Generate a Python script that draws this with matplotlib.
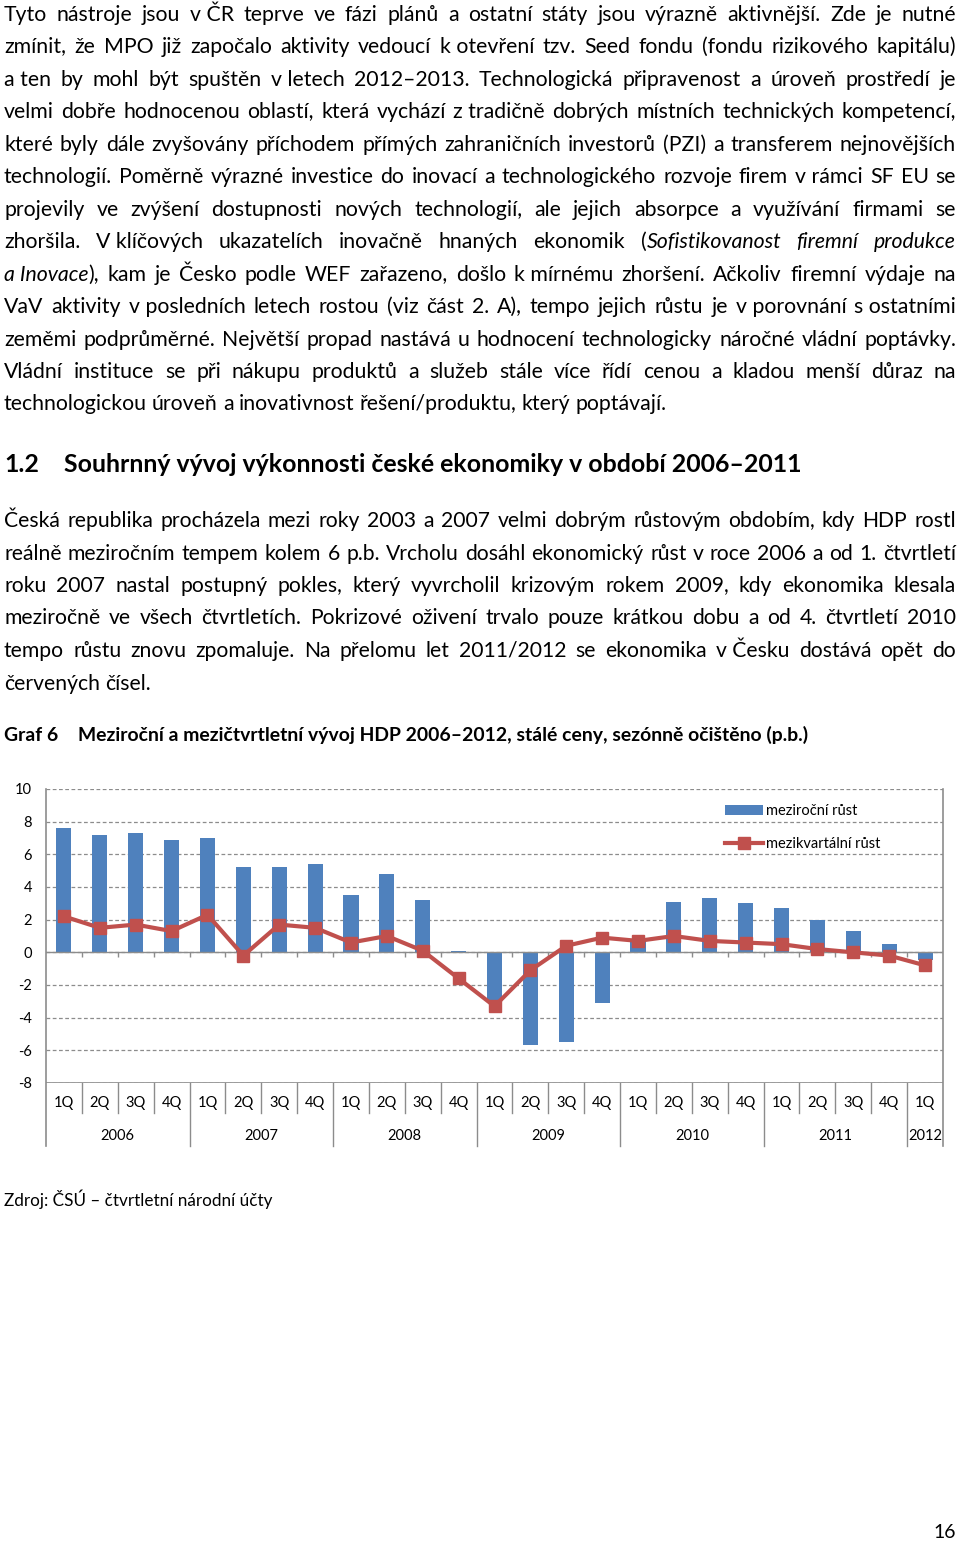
import matplotlib
matplotlib.use("Agg")
import matplotlib.pyplot as plt
from matplotlib.backends.backend_agg import get_hinting_flag
from matplotlib.lines import Line2D
from matplotlib.patches import Patch

FONT = ["Lato", "DejaVu Sans"]
plt.rcParams["font.family"] = FONT
plt.rcParams["axes.unicode_minus"] = False

BLUE = "#4F81BD"
RED = "#C0504D"
GRAY = "#8C8C8C"

# ~ marks a non-breaking space, * toggles italic
PARA1 = [
    "Tyto nástroje jsou v~ČR teprve ve fázi plánů a ostatní státy jsou výrazně aktivnější. Zde je nutné",
    "zmínit, že MPO již započalo aktivity vedoucí k~otevření tzv. Seed fondu (fondu rizikového kapitálu)",
    "a~ten by mohl být spuštěn v~letech 2012–2013. Technologická připravenost a úroveň prostředí je",
    "velmi dobře hodnocenou oblastí, která vychází z~tradičně dobrých místních technických kompetencí,",
    "které byly dále zvyšovány příchodem přímých zahraničních investorů (PZI) a transferem nejnovějších",
    "technologií. Poměrně výrazné investice do inovací a technologického rozvoje firem v~rámci SF EU se",
    "projevily ve zvýšení dostupnosti nových technologií, ale jejich absorpce a využívání firmami se",
    "zhoršila. V~klíčových ukazatelích inovačně hnaných ekonomik (*Sofistikovanost firemní produkce",
    "a~Inovace*), kam je Česko podle WEF zařazeno, došlo k~mírnému zhoršení. Ačkoliv firemní výdaje na",
    "VaV aktivity v~posledních letech rostou (viz část 2. A), tempo jejich růstu je v~porovnání s~ostatními",
    "zeměmi podprůměrné. Největší propad nastává u hodnocení technologicky náročné vládní poptávky.",
    "Vládní instituce se při nákupu produktů a služeb stále více řídí cenou a kladou menší důraz na",
    "technologickou úroveň a inovativnost řešení/produktu, který poptávají.",
]
HEADING_NUM = "1.2"
HEADING = "Souhrnný vývoj výkonnosti české ekonomiky v období 2006–2011"
PARA2 = [
    "Česká republika procházela mezi roky 2003 a 2007 velmi dobrým růstovým obdobím, kdy HDP rostl",
    "reálně meziročním tempem kolem 6 p.b. Vrcholu dosáhl ekonomický růst v roce 2006 a od 1. čtvrtletí",
    "roku 2007 nastal postupný pokles, který vyvrcholil krizovým rokem 2009, kdy ekonomika klesala",
    "meziročně ve všech čtvrtletích. Pokrizové oživení trvalo pouze krátkou dobu a od 4. čtvrtletí 2010",
    "tempo růstu znovu zpomaluje. Na přelomu let 2011/2012 se ekonomika v~Česku dostává opět do",
    "červených čísel.",
]
CAPTION_NUM = "Graf 6"
CAPTION = "Meziroční a mezičtvrtletní vývoj HDP 2006–2012, stálé ceny, sezónně očištěno (p.b.)"
SOURCE = "Zdroj: ČSÚ – čtvrtletní národní účty"
PAGE_NO = "16"

QUARTERS = ["1Q", "2Q", "3Q", "4Q"] * 6 + ["1Q"]
YEARS = ["2006", "2007", "2008", "2009", "2010", "2011", "2012"]
YOY = [7.6, 7.2, 7.3, 6.9, 7.0, 5.2, 5.2, 5.4, 3.5, 4.8, 3.2, 0.1,
       -3.1, -5.7, -5.5, -3.1, 0.8, 3.1, 3.3, 3.0, 2.7, 2.0, 1.3, 0.5, -0.5]
QOQ = [2.2, 1.5, 1.7, 1.3, 2.3, -0.2, 1.7, 1.5, 0.6, 1.0, 0.1, -1.6,
       -3.3, -1.1, 0.4, 0.9, 0.7, 1.0, 0.7, 0.6, 0.5, 0.2, 0.0, -0.2, -0.8]
LABELS = ["meziroční růst", "mezikvartální růst"]

W, H = 960, 1541
fig = plt.figure(figsize=(W / 100, H / 100), dpi=100)
page = fig.add_axes([0, 0, 1, 1])
page.set_xlim(0, W)
page.set_ylim(H, 0)
page.axis("off")
renderer = fig.canvas.get_renderer()


def text_width(s, size, **kw):
    t = page.text(0, 0, s, fontsize=size, **kw)
    w = t.get_window_extent(renderer).width
    t.remove()
    return w


def fit_size(s, width, **kw):
    return 10 * width / text_width(s, 10, **kw)


def snap_baseline(t, target):
    # Agg puts each word's bitmap on whole pixels depending on its own glyph box;
    # shift y so that every word lands on the same baseline row
    font = renderer._prepare_font(t.get_fontproperties())
    font.set_text(t.get_text(), 0, flags=get_hinting_flag())
    _, h = font.get_width_height()
    d = font.get_descent()
    t.set_y(round(target) + h // 64 - (h - d) // 64 - d / 64)


def split_words(line, italic):
    words = []
    for raw in line.split(" "):
        segs, buf = [], ""
        for ch in raw:
            if ch == "*":
                if buf:
                    segs.append((buf.replace("~", " "), italic))
                buf = ""
                italic = not italic
            else:
                buf += ch
        if buf:
            segs.append((buf.replace("~", " "), italic))
        words.append(segs)
    return words, italic


def draw_line(words, x0, x1, y, size, justify, weight="normal"):
    items = []
    for segs in words:
        row = []
        for txt, it in segs:
            t = page.text(0, y, txt, fontsize=size, fontweight=weight,
                          fontstyle="italic" if it else "normal",
                          va="baseline", ha="left", color="black")
            row.append((t, t.get_window_extent(renderer).width))
            snap_baseline(t, y)
        items.append(row)
    widths = [sum(w for _, w in row) for row in items]
    if justify and len(items) > 1:
        gap = (x1 - x0 - sum(widths)) / (len(items) - 1)
    else:
        gap = size * 100 / 72 * 0.24
    x = x0
    for row, w in zip(items, widths):
        xx = x
        for t, sw in row:
            t.set_x(xx)
            xx += sw
        x += w + gap


def draw_paragraph(lines, top, pitch, max_size, x0=4, x1=956):
    nat = max(text_width(l.replace("*", "").replace("~", " "), 10) for l in lines[:-1])
    size = min(max_size, 10 * (x1 - x0) * 0.985 / nat)
    italic = False
    for i, line in enumerate(lines):
        words, italic = split_words(line, italic)
        draw_line(words, x0, x1, top + i * pitch, size, i < len(lines) - 1)


draw_paragraph(PARA1, 21, 32.45, 15.6)
draw_paragraph(PARA2, 527, 32.5, 15.6)

hsize = fit_size(HEADING, 742, fontweight="bold")
page.text(4, 472, HEADING_NUM, fontsize=hsize, fontweight="bold", va="baseline")
page.text(64, 472, HEADING, fontsize=hsize, fontweight="bold", va="baseline")

csize = fit_size(CAPTION, 732, fontweight="bold")
page.text(4, 741, CAPTION_NUM, fontsize=csize, fontweight="bold", va="baseline")
page.text(78, 741, CAPTION, fontsize=csize, fontweight="bold", va="baseline")

page.text(4, 1206, SOURCE, fontsize=fit_size(SOURCE, 268), va="baseline")
page.text(956, 1538, PAGE_NO, fontsize=14, va="baseline", ha="right")

# chart
left, right, top, bottom = 46, 943, 789, 1083
ax = fig.add_axes([left / W, 1 - bottom / H, (right - left) / W, (bottom - top) / H])
ax.patch.set_alpha(0)
x = list(range(len(QUARTERS)))
ax.set_xlim(-0.5, len(QUARTERS) - 0.5)
ax.set_ylim(-8, 10)
ax.set_yticks(range(-8, 11, 2))
ax.set_xticks([])
ax.tick_params(axis="y", length=0, pad=10, labelsize=10.5)
for s in ax.spines.values():
    s.set_visible(False)
ax.yaxis.grid(True, color=GRAY, linestyle=(0, (3, 2)), linewidth=0.9)
ax.set_axisbelow(True)

ax.bar(x, YOY, width=0.42, color=BLUE, zorder=2)
ax.axhline(0, color=GRAY, linewidth=1, zorder=2.5)
ax.axhline(-8, color=GRAY, linewidth=1.2, zorder=2.5)
ax.vlines([k + 0.5 for k in x[:-1]], -0.27, 0, color=GRAY, linewidth=1, zorder=2.5)
ax.plot(x, QOQ, color=RED, linewidth=3, marker="s", markersize=9, zorder=3)

xt = ax.get_xaxis_transform()
for k in x:
    ax.text(k, -0.068, QUARTERS[k], transform=xt, ha="center", va="center", fontsize=10.5)
for k in range(len(x) - 1):
    low = -0.215 if (k + 1) % 4 == 0 else -0.102
    ax.plot([k + 0.5, k + 0.5], [0, low], transform=xt, color=GRAY, linewidth=1, clip_on=False)
for edge in (-0.5, len(x) - 0.5):
    ax.plot([edge, edge], [1, -0.215], transform=xt, color=GRAY, linewidth=1.2, clip_on=False)
for i, year in enumerate(YEARS):
    span = [q for q in x if q // 4 == i]
    ax.text(sum(span) / len(span), -0.18, year, transform=xt, ha="center", va="center", fontsize=10.5)

handles = [Patch(facecolor=BLUE, edgecolor="none"),
           Line2D([], [], color=RED, linewidth=3, marker="s", markersize=9)]
ax.legend(handles, LABELS, loc="upper left", bbox_to_anchor=(0.757, 0.948), frameon=False,
          borderpad=0, handlelength=2.6, handletextpad=0.2, labelspacing=1.27, fontsize=10.5,
          borderaxespad=0)

fig.savefig("out.png", dpi=100)
